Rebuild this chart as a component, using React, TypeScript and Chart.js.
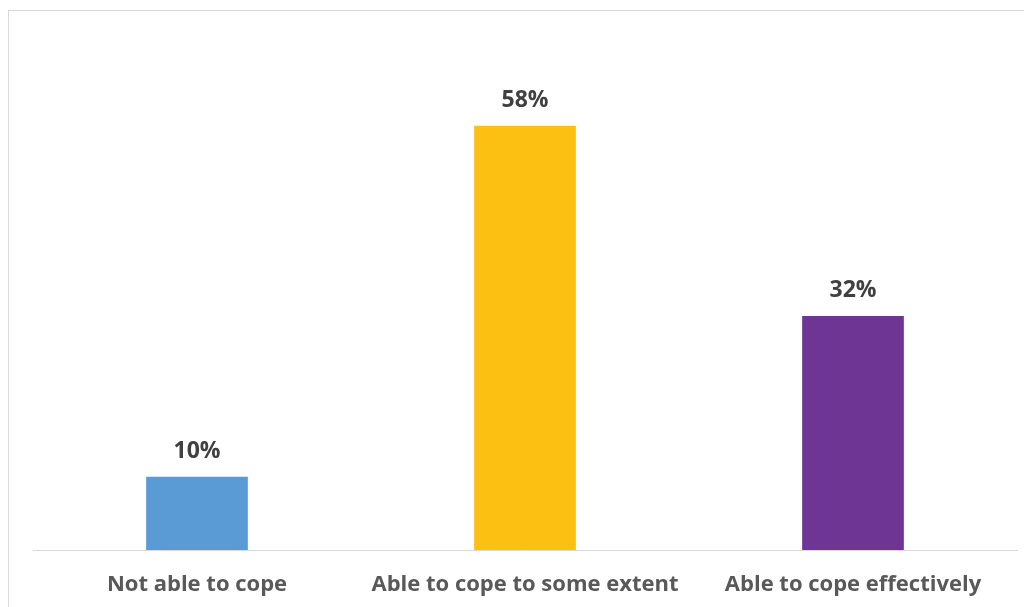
import React, { useEffect, useRef } from "react";
import { Chart, registerables } from "chart.js";

Chart.register(...registerables);

const categories = ["Not able to cope", "Able to cope to some extent", "Able to cope effectively"];
const values = [10, 58, 32];
const valueLabels = ["10%", "58%", "32%"];
const barColors = ["#5B9BD5", "#FBC012", "#6E3594"];

const FONT = "'Open Sans', Lato, sans-serif";

const valueLabelPlugin = {
  id: "valueLabels",
  afterDatasetsDraw(chart: any) {
    const ctx = chart.ctx;
    const meta = chart.getDatasetMeta(0);
    ctx.save();
    ctx.font = `bold 23px ${FONT}`;
    ctx.fillStyle = "#404040";
    ctx.textAlign = "center";
    ctx.textBaseline = "middle";
    meta.data.forEach((bar: any, i: number) => {
      ctx.fillText(valueLabels[i], bar.x, bar.y - 25);
    });
    ctx.restore();
  },
};

export default function App() {
  const ref = useRef<HTMLCanvasElement>(null);
  useEffect(() => {
    if (!ref.current) return;
    const chart = new Chart(ref.current, {
      type: "bar",
      data: {
        labels: categories,
        datasets: [
          {
            data: values,
            backgroundColor: barColors,
            borderWidth: 0,
            barPercentage: 1,
            categoryPercentage: 0.31,
          },
        ],
      },
      options: {
        animation: false,
        responsive: false,
        maintainAspectRatio: false,
        layout: { padding: { left: 24, right: 15, top: 27, bottom: 0 } },
        plugins: { legend: { display: false }, tooltip: { enabled: false } },
        scales: {
          x: {
            grid: { display: false, drawTicks: false },
            border: { display: true, color: "#D9D9D9", width: 1 },
            ticks: {
              color: "#595959",
              font: { family: FONT, size: 22, weight: "bold" },
              padding: 22,
              maxRotation: 0,
            },
            afterFit(scale: any) {
              scale.height = 57;
            },
          },
          y: {
            display: false,
            min: 0,
            max: 70,
          },
        },
      },
      plugins: [valueLabelPlugin],
    });
    return () => chart.destroy();
  }, []);
  return (
    <div
      style={{
        marginTop: 2,
        width: 1040,
        height: 620,
        border: "1px solid #D9D9D9",
        background: "#fff",
        overflow: "hidden",
      }}
    >
      <canvas ref={ref} width={1023} height={596} style={{ display: "block" }} />
    </div>
  );
}
